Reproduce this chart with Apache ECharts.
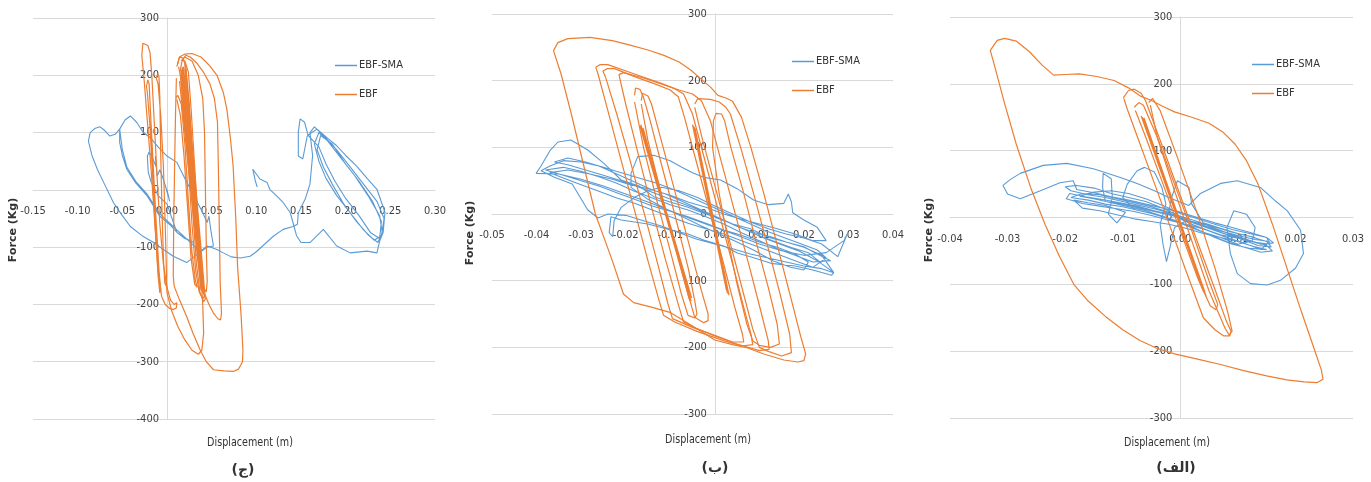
<!DOCTYPE html>
<html><head><meta charset="utf-8">
<script src="https://cdn.jsdelivr.net/npm/echarts@6/dist/echarts.min.js"></script>
<style>html,body{margin:0;padding:0;background:#fff}#c{width:1371px;height:482px}</style>
</head><body><div id="c"></div>
<script>
// ---------- tick settings ----------
const p1X = {min:-0.15, max:0.30, interval:0.05};
const p1Y = {min:-400, max:300, interval:100};
const p2X = {min:-0.05, max:0.04, interval:0.01};
const p2Y = {min:-300, max:300, interval:100};
const p3X = {min:-0.04, max:0.03, interval:0.01};
const p3Y = {min:-300, max:300, interval:100};
const seriesNames = ['EBF-SMA','EBF'];
const captions = ['(ج)','(ب)','(الف)'];

// ---------- panel 1 (ج) ----------
const p1_sma = [[0.000,0],[0.003,-20],[-0.002,8],[0.002,-12],[-0.004,18],[-0.008,35],[-0.011,24],[-0.013,59],[-0.012,40],[-0.016,55],[-0.020,66],[-0.022,59],[-0.021,31],[-0.018,15],[-0.010,-10],[0.000,-25],[0.011,-74],[0.020,-85],[0.030,-92],[0.020,-84],[0.011,-74],[0.004,-62],[-0.008,-46],[-0.022,-11],[-0.035,12],[-0.045,36],[-0.050,60],[-0.053,83],[-0.053,106],[-0.047,122],[-0.041,129],[-0.034,118],[-0.027,101],[-0.018,90],[-0.010,75],[0.000,59],[0.011,48],[0.020,20],[0.030,-10],[0.040,-40],[0.045,-57],[0.047,-46],[0.049,-70],[0.052,-98],[0.045,-100],[0.036,-110],[0.022,-127],[0.007,-116],[-0.004,-104],[-0.015,-92],[-0.028,-80],[-0.041,-64],[-0.050,-45],[-0.060,-22],[-0.070,10],[-0.078,36],[-0.084,60],[-0.088,85],[-0.086,100],[-0.081,107],[-0.075,110],[-0.070,104],[-0.064,94],[-0.058,97],[-0.053,106],[-0.050,70],[-0.045,40],[-0.035,15],[-0.022,-8],[-0.008,-42],[0.011,-70],[0.025,-90],[0.037,-108],[0.045,-98],[0.056,-104],[0.063,-110],[0.072,-117],[0.082,-119],[0.093,-116],[0.100,-108],[0.107,-98],[0.119,-81],[0.130,-69],[0.141,-64],[0.146,-60],[0.147,-40],[0.149,-34],[0.155,-15],[0.160,10],[0.163,60],[0.160,100],[0.165,110],[0.175,95],[0.190,70],[0.205,40],[0.220,10],[0.235,-20],[0.243,-50],[0.240,-80],[0.232,-88],[0.220,-70],[0.205,-40],[0.190,-10],[0.178,20],[0.170,50],[0.165,80],[0.170,100],[0.180,85],[0.195,55],[0.210,25],[0.225,-10],[0.238,-45],[0.241,-75],[0.236,-92],[0.226,-80],[0.212,-55],[0.198,-25],[0.185,10],[0.175,40],[0.168,70],[0.172,95],[0.185,80],[0.200,45],[0.215,15],[0.230,-20],[0.240,-55],[0.238,-85],[0.228,-75],[0.215,-45],[0.200,-15],[0.188,15],[0.178,45],[0.170,75],[0.158,95],[0.154,118],[0.149,124],[0.147,101],[0.147,59],[0.152,54],[0.157,94],[0.162,100],[0.168,106],[0.180,90],[0.190,77],[0.200,60],[0.212,42],[0.224,20],[0.235,1],[0.244,-39],[0.242,-74],[0.238,-90],[0.235,-110],[0.224,-107],[0.205,-110],[0.190,-98],[0.175,-69],[0.168,-80],[0.160,-92],[0.150,-92],[0.145,-80],[0.141,-57],[0.138,-40],[0.130,-22],[0.123,-11],[0.115,1],[0.112,13],[0.104,19],[0.096,36],[0.099,15],[0.101,5]];
const p1_ebf_A = [[-0.0282,235],[-0.0270,256],[-0.0250,258],[-0.0215,252],[-0.0190,240],[-0.0170,200],[-0.0140,110],[-0.0110,20],[-0.0080,-60],[-0.0040,-130],[0.0000,-170],[0.0040,-193],[0.0080,-200],[0.0110,-197],[0.0105,-206],[0.0070,-209],[0.0030,-207],[-0.0020,-200],[-0.0060,-186],[-0.0100,-140],[-0.0140,-50],[-0.0180,40],[-0.0220,120],[-0.0255,190],[-0.0282,235]];
const p1_ebf_B = [[-0.0120,195],[-0.0105,202],[-0.0090,198],[-0.0080,160],[-0.0070,60],[-0.0055,-40],[-0.0040,-120],[-0.0025,-162],[-0.0010,-168],[-0.0005,-150],[-0.0020,-60],[-0.0040,40],[-0.0070,130],[-0.0100,185],[-0.0120,195]];
const p1_ebf_D = [[-0.0230,180],[-0.0215,192],[-0.0200,185],[-0.0180,120],[-0.0150,30],[-0.0120,-60],[-0.0090,-140],[-0.0070,-175],[-0.0080,-180],[-0.0100,-150],[-0.0130,-70],[-0.0160,20],[-0.0190,110],[-0.0220,170],[-0.0230,180]];
const p1_ebf_M1 = [[0.0120,220],[0.0140,232],[0.0180,230],[0.0210,215],[0.0250,150],[0.0290,50],[0.0330,-50],[0.0370,-130],[0.0400,-175],[0.0420,-185],[0.0400,-190],[0.0360,-178],[0.0320,-140],[0.0280,-60],[0.0240,40],[0.0200,130],[0.0160,190],[0.0130,215]];
const p1_ebf_M2 = [[0.0150,210],[0.0170,226],[0.0200,225],[0.0240,205],[0.0270,140],[0.0310,40],[0.0350,-60],[0.0380,-140],[0.0410,-180],[0.0430,-190],[0.0410,-195],[0.0370,-180],[0.0330,-130],[0.0290,-40],[0.0250,60],[0.0210,150],[0.0170,200],[0.0150,210]];
const p1_ebf_M3 = [[0.0100,160],[0.0120,165],[0.0160,150],[0.0200,80],[0.0240,-20],[0.0280,-110],[0.0320,-160],[0.0340,-170],[0.0310,-165],[0.0270,-120],[0.0230,-30],[0.0190,60],[0.0150,130],[0.0110,158]];
const p1_ebf_band = [[0.0150,200],[0.0390,-172],[0.0160,210],[0.0400,-165],[0.0140,190],[0.0380,-175],[0.0170,215],[0.0410,-170],[0.0155,205],[0.0385,-160],[0.0165,180],[0.0395,-178],[0.0175,200],[0.0370,-150],[0.0180,195],[0.0360,-140],[0.0190,205],[0.0375,-165],[0.0185,215],[0.0405,-182],[0.0200,220],[0.0420,-175],[0.0210,212],[0.0395,-168],[0.0195,200],[0.0350,-120],[0.0220,190],[0.0365,-130]];
const p1_ebf_M4 = [[0.0110,215],[0.0140,232],[0.0200,237],[0.0280,238],[0.0380,232],[0.0470,218],[0.0560,200],[0.0630,170],[0.0670,141],[0.0710,90],[0.0740,42],[0.0770,-50],[0.0790,-134],[0.0830,-220],[0.0850,-280],[0.0845,-300],[0.0800,-313],[0.0740,-317],[0.0640,-316],[0.0520,-314],[0.0440,-300],[0.0370,-279],[0.0290,-250],[0.0220,-221],[0.0140,-192],[0.0080,-168],[0.0070,-150],[0.0075,-60],[0.0085,40],[0.0095,130],[0.0105,195]];
const p1_ebf_M5 = [[0.0180,228],[0.0210,235],[0.0260,232],[0.0330,222],[0.0410,205],[0.0480,185],[0.0530,160],[0.0565,118],[0.0575,40],[0.0585,-60],[0.0595,-160],[0.0610,-215],[0.0600,-227],[0.0570,-225],[0.0520,-215],[0.0470,-200],[0.0430,-185],[0.0400,-160],[0.0360,-100],[0.0320,-20],[0.0280,70],[0.0240,150],[0.0200,210]];
const p1_ebf_M6 = [[-0.0010,-150],[0.0000,-180],[0.0050,-210],[0.0120,-238],[0.0200,-262],[0.0280,-280],[0.0350,-287],[0.0390,-280],[0.0410,-250],[0.0400,-200],[0.0380,-150]];
const p1_ebf_M7 = [[0.0160,225],[0.0200,232],[0.0280,225],[0.0350,200],[0.0400,160],[0.0420,100],[0.0430,0],[0.0440,-100],[0.0450,-160],[0.0440,-178],[0.0420,-180],[0.0380,-165],[0.0340,-110],[0.0300,-20],[0.0260,70],[0.0220,150],[0.0180,210]];

// ---------- panel 2 (ب) ----------
const p2_sma = [[0.0000,-5],[0.0040,-15],[0.0080,-22],[0.0120,-35],[0.0160,-42],[0.0200,-50],[0.0240,-62],[0.0267,-88],[0.0262,-92],[0.0220,-84],[0.0180,-78],[0.0126,-74],[0.0080,-64],[0.0052,-59],[0.0020,-48],[-0.0025,-39],[-0.0060,-30],[-0.0099,-24],[-0.0150,-15],[-0.0210,-9],[-0.0233,-4],[-0.0237,-28],[-0.0229,-34],[-0.0226,-10],[-0.0210,10],[-0.0180,25],[-0.0150,35],[-0.0120,40],[-0.0080,35],[-0.0040,25],[0.0000,12],[0.0040,0],[0.0080,-12],[0.0120,-22],[0.0160,-30],[0.0200,-36],[0.0240,-45],[0.0276,-64],[0.0298,-29],[0.0290,-40],[0.0250,-58],[0.0200,-62],[0.0150,-55],[0.0100,-45],[0.0050,-32],[0.0000,-20],[-0.0050,-8],[-0.0100,5],[-0.0150,18],[-0.0200,30],[-0.0250,42],[-0.0300,52],[-0.0350,60],[-0.0401,61],[-0.0390,72],[-0.0370,95],[-0.0352,108],[-0.0323,111],[-0.0285,96],[-0.0249,76],[-0.0210,51],[-0.0170,42],[-0.0137,26],[-0.0100,18],[-0.0060,10],[-0.0025,1],[0.0015,-8],[0.0052,-19],[0.0090,-28],[0.0126,-34],[0.0160,-42],[0.0200,-49],[0.0230,-60],[0.0260,-70],[0.0220,-72],[0.0180,-62],[0.0140,-52],[0.0100,-40],[0.0060,-28],[0.0020,-15],[-0.0020,-4],[-0.0060,6],[-0.0100,14],[-0.0140,24],[-0.0180,34],[-0.0220,46],[-0.0260,56],[-0.0300,64],[-0.0340,70],[-0.0380,66],[-0.0340,58],[-0.0300,50],[-0.0260,42],[-0.0220,32],[-0.0180,22],[-0.0140,12],[-0.0100,4],[-0.0060,-4],[-0.0020,-14],[0.0020,-24],[0.0060,-32],[0.0100,-42],[0.0140,-50],[0.0180,-60],[0.0210,-72],[0.0200,-84],[0.0170,-80],[0.0130,-70],[0.0090,-55],[0.0050,-42],[0.0010,-30],[-0.0030,-18],[-0.0070,-5],[-0.0110,8],[-0.0150,22],[-0.0188,40],[-0.0188,61],[-0.0173,86],[-0.0137,88],[-0.0100,80],[-0.0076,71],[-0.0050,62],[-0.0025,55],[0.0013,51],[0.0050,38],[0.0087,21],[0.0120,14],[0.0155,16],[0.0165,30],[0.0172,18],[0.0175,2],[0.0200,-9],[0.0230,-20],[0.0250,-40],[0.0220,-40],[0.0180,-30],[0.0140,-22],[0.0100,-15],[0.0060,-8],[0.0020,0],[-0.0020,10],[-0.0060,18],[-0.0100,28],[-0.0140,36],[-0.0180,48],[-0.0220,60],[-0.0260,72],[-0.0300,78],[-0.0340,80],[-0.0370,72],[-0.0390,65],[-0.0360,55],[-0.0320,45],[-0.0285,6],[-0.0262,-6],[-0.0240,0],[-0.0200,-2],[-0.0160,-10],[-0.0120,-18],[-0.0080,-28],[-0.0040,-38],[0.0000,-45],[0.0040,-52],[0.0080,-60],[0.0120,-66],[0.0160,-72],[0.0200,-78],[0.0240,-82],[0.0267,-88],[0.0230,-70],[0.0190,-56],[0.0150,-46],[0.0110,-36],[0.0070,-24],[0.0030,-12],[-0.0010,-2],[-0.0050,10],[-0.0090,20],[-0.0130,30],[-0.0170,40],[-0.0210,50],[-0.0250,58],[-0.0290,66],[-0.0330,74],[-0.0360,78],[-0.0330,84],[-0.0290,78],[-0.0250,70],[-0.0210,62],[-0.0170,54],[-0.0130,46],[-0.0090,36],[-0.0050,24],[-0.0010,12],[0.0030,0],[0.0070,-12],[0.0110,-24],[0.0150,-34],[0.0190,-44],[0.0230,-54],[0.0250,-66],[0.0220,-80],[0.0180,-70],[0.0140,-60],[0.0100,-50],[0.0060,-40],[0.0020,-30],[-0.0020,-22],[-0.0060,-14],[-0.0100,-4],[-0.0140,6],[-0.0180,16],[-0.0220,24],[-0.0260,34],[-0.0300,44],[-0.0340,54],[-0.0370,62],[-0.0330,66],[-0.0280,60],[-0.0230,52],[-0.0190,44],[-0.0150,38],[-0.0110,30],[-0.0070,18],[-0.0030,6],[0.0010,-6],[0.0050,-18],[0.0090,-30],[0.0130,-40],[0.0170,-50],[0.0210,-58],[0.0240,-74]];
const p2_ebf_outer = [[-0.0362,245],[-0.0352,257],[-0.0330,263],[-0.0280,265],[-0.0230,260],[-0.0188,253],[-0.0150,246],[-0.0114,238],[-0.0080,228],[-0.0054,216],[-0.0030,202],[-0.0009,190],[0.0007,178],[0.0025,174],[0.0040,169],[0.0060,145],[0.0081,100],[0.0110,31],[0.0141,-49],[0.0170,-124],[0.0193,-184],[0.0204,-210],[0.0200,-220],[0.0186,-222],[0.0155,-219],[0.0110,-210],[0.0074,-201],[0.0040,-196],[0.0000,-189],[-0.0050,-168],[-0.0099,-148],[-0.0140,-140],[-0.0182,-133],[-0.0205,-120],[-0.0230,-70],[-0.0268,0],[-0.0295,75],[-0.0322,150],[-0.0345,210],[-0.0362,245]];
const p2_ebf_l2 = [[-0.0262,210],[-0.0267,220],[-0.0258,224],[-0.0240,224],[-0.0180,210],[-0.0120,196],[-0.0090,188],[-0.0070,180],[-0.0050,150],[-0.0020,75],[0.0010,0],[0.0040,-75],[0.0065,-140],[0.0082,-182],[0.0085,-196],[0.0060,-198],[0.0020,-190],[-0.0040,-176],[-0.0090,-162],[-0.0115,-152],[-0.0125,-130],[-0.0150,-70],[-0.0180,5],[-0.0210,80],[-0.0240,155],[-0.0262,210]];
const p2_ebf_l3 = [[-0.0245,205],[-0.0251,214],[-0.0242,218],[-0.0225,218],[-0.0180,206],[-0.0130,194],[-0.0100,186],[-0.0082,176],[-0.0068,145],[-0.0040,75],[-0.0010,0],[0.0020,-75],[0.0045,-140],[0.0062,-180],[0.0065,-192],[0.0040,-192],[0.0000,-182],[-0.0050,-170],[-0.0095,-157],[-0.0105,-135],[-0.0130,-70],[-0.0160,5],[-0.0190,80],[-0.0220,150],[-0.0245,205]];
const p2_ebf_l4 = [[-0.0212,200],[-0.0215,209],[-0.0205,212],[-0.0160,204],[-0.0120,195],[-0.0080,186],[-0.0050,180],[-0.0030,170],[-0.0010,140],[0.0020,65],[0.0050,-10],[0.0080,-85],[0.0105,-150],[0.0120,-190],[0.0122,-203],[0.0100,-205],[0.0050,-195],[0.0000,-183],[-0.0040,-172],[-0.0070,-162],[-0.0080,-140],[-0.0110,-70],[-0.0140,5],[-0.0170,85],[-0.0200,165],[-0.0212,200]];
const p2_ebf_l5 = [[-0.0180,178],[-0.0178,189],[-0.0168,187],[-0.0160,175],[-0.0145,140],[-0.0120,75],[-0.0090,0],[-0.0060,-80],[-0.0045,-130],[-0.0040,-150],[-0.0045,-156],[-0.0060,-152],[-0.0075,-120],[-0.0100,-55],[-0.0130,20],[-0.0160,100],[-0.0180,168]];
const p2_ebf_l6 = [[-0.0165,170],[-0.0162,181],[-0.0150,177],[-0.0142,165],[-0.0120,110],[-0.0090,35],[-0.0060,-40],[-0.0030,-115],[-0.0015,-150],[-0.0015,-160],[-0.0025,-163],[-0.0045,-155],[-0.0060,-120],[-0.0090,-45],[-0.0120,30],[-0.0150,110],[-0.0165,165]];
const p2_ebf_bandL = [[-0.0168,132],[-0.0055,-130],[-0.0163,127],[-0.0052,-126],[-0.0166,134],[-0.0057,-128],[-0.0161,129],[-0.0053,-131],[-0.0165,131],[-0.0056,-125]];
const p2_ebf_r2 = [[-0.0045,165],[-0.0038,173],[-0.0010,172],[0.0010,168],[0.0025,160],[0.0035,150],[0.0058,100],[0.0087,31],[0.0119,-49],[0.0148,-124],[0.0168,-180],[0.0172,-208],[0.0150,-213],[0.0120,-206],[0.0100,-200],[0.0085,-172],[0.0060,-108],[0.0030,-32],[0.0000,43],[-0.0030,118],[-0.0045,160]];
const p2_ebf_r3 = [[-0.0003,140],[0.0003,151],[0.0015,150],[0.0022,140],[0.0036,100],[0.0065,31],[0.0090,-35],[0.0120,-110],[0.0140,-165],[0.0145,-195],[0.0125,-200],[0.0100,-197],[0.0085,-190],[0.0072,-165],[0.0050,-105],[0.0030,-40],[0.0010,30],[-0.0005,100],[-0.0003,140]];
const p2_ebf_bandR = [[-0.0048,132],[0.0028,-118],[-0.0044,128],[0.0032,-122],[-0.0050,134],[0.0026,-114],[-0.0046,130],[0.0030,-120],[-0.0047,131]];

// ---------- panel 3 (الف) ----------
const p3_sma = [[0.0000,-2],[0.0030,-8],[0.0060,-14],[0.0090,-22],[0.0120,-28],[0.0150,-36],[0.0158,-44],[0.0135,-42],[0.0105,-32],[0.0075,-24],[0.0045,-15],[0.0015,-6],[-0.0015,4],[-0.0045,10],[-0.0075,17],[-0.0105,22],[-0.0135,27],[-0.0165,31],[-0.0192,36],[-0.0198,28],[-0.0170,21],[-0.0140,17],[-0.0110,13],[-0.0080,9],[-0.0050,3],[-0.0020,-4],[0.0010,-10],[0.0040,-17],[0.0070,-26],[0.0100,-31],[0.0130,-37],[0.0156,-40],[0.0150,-30],[0.0120,-22],[0.0090,-15],[0.0060,-8],[0.0030,0],[0.0000,8],[-0.0030,14],[-0.0060,20],[-0.0090,26],[-0.0120,31],[-0.0150,37],[-0.0180,42],[-0.0186,55],[-0.0209,52],[-0.0243,40],[-0.0278,28],[-0.0300,35],[-0.0308,48],[-0.0295,57],[-0.0278,66],[-0.0238,78],[-0.0197,81],[-0.0151,73],[-0.0104,60],[-0.0075,51],[-0.0045,40],[-0.0015,28],[0.0015,18],[0.0035,36],[0.0070,51],[0.0099,55],[0.0139,45],[0.0165,25],[0.0186,10],[0.0209,-19],[0.0214,-54],[0.0200,-76],[0.0174,-94],[0.0151,-101],[0.0122,-99],[0.0099,-84],[0.0087,-54],[0.0081,-15],[0.0093,10],[0.0115,5],[0.0130,-15],[0.0125,-35],[0.0100,-40],[0.0070,-30],[0.0040,-22],[0.0010,-12],[-0.0020,-2],[-0.0050,6],[-0.0080,12],[-0.0100,30],[-0.0092,50],[-0.0075,70],[-0.0062,75],[-0.0045,68],[-0.0032,45],[-0.0025,20],[-0.0035,-10],[-0.0030,-40],[-0.0024,-66],[-0.0018,-45],[-0.0010,-15],[0.0010,-5],[0.0040,-12],[0.0070,-20],[0.0100,-27],[0.0130,-33],[0.0155,-36],[0.0140,-48],[0.0110,-38],[0.0080,-30],[0.0050,-20],[0.0020,-10],[-0.0010,2],[-0.0040,8],[-0.0070,14],[-0.0100,20],[-0.0130,24],[-0.0135,45],[-0.0134,66],[-0.0120,58],[-0.0118,30],[-0.0125,5],[-0.0110,-8],[-0.0095,8],[-0.0130,18],[-0.0160,22],[-0.0185,26],[-0.0170,14],[-0.0140,10],[-0.0110,4],[-0.0080,-2],[-0.0050,-6],[-0.0020,-10],[0.0010,-16],[0.0040,-24],[0.0070,-30],[0.0100,-36],[0.0130,-44],[0.0150,-48],[0.0120,-46],[0.0090,-40],[0.0060,-30],[0.0030,-18],[0.0000,-8],[-0.0030,2],[-0.0060,10],[-0.0090,16],[-0.0120,22],[-0.0150,28],[-0.0175,32],[-0.0150,38],[-0.0120,40],[-0.0090,36],[-0.0060,28],[-0.0030,18],[0.0000,6],[0.0030,-2],[0.0060,-10],[0.0090,-18],[0.0120,-24],[0.0150,-30],[0.0162,-38],[0.0140,-40],[0.0110,-32],[0.0080,-25],[0.0050,-16],[0.0020,-6],[-0.0010,4],[-0.0040,12],[-0.0070,18],[-0.0100,24],[-0.0130,30],[-0.0160,34],[-0.0190,40],[-0.0200,46],[-0.0180,48],[-0.0150,44],[-0.0120,36],[-0.0090,30],[-0.0060,24],[-0.0030,14],[0.0000,2],[0.0030,-6],[0.0060,-16],[0.0090,-26],[0.0120,-34],[0.0150,-42],[0.0160,-50],[0.0140,-52],[0.0110,-44],[0.0080,-36],[0.0050,-26],[0.0020,-14],[-0.0010,-4],[-0.0040,4],[-0.0070,10],[-0.0100,16],[-0.0130,20],[-0.0160,26],[-0.0190,30],[-0.0170,36],[-0.0140,34],[-0.0110,28],[-0.0080,22],[-0.0050,16],[-0.0020,8],[-0.0015,30],[-0.0005,55],[0.0015,45],[0.0020,20],[0.0040,-8],[0.0070,-16],[0.0100,-24],[0.0130,-30]];
const p3_ebf_band = [[-0.0066,150],[0.0040,-110],[-0.0062,146],[0.0043,-112],[-0.0068,152],[0.0038,-106],[-0.0064,148],[0.0045,-118],[-0.0060,140],[0.0036,-100],[-0.0065,147],[0.0041,-109],[-0.0063,149],[0.0042,-113]];
const p3_ebf_loopA = [[-0.0080,165],[-0.0072,172],[-0.0064,168],[-0.0040,120],[-0.0010,50],[0.0020,-20],[0.0050,-95],[0.0065,-130],[0.0062,-138],[0.0052,-132],[0.0030,-90],[0.0000,-20],[-0.0030,50],[-0.0060,120],[-0.0078,160]];
const p3_ebf_loopB = [[-0.0099,179],[-0.0090,190],[-0.0080,192],[-0.0068,186],[-0.0060,174],[-0.0030,104],[0.0000,33],[0.0030,-37],[0.0060,-107],[0.0080,-155],[0.0088,-170],[0.0086,-177],[0.0075,-177],[0.0060,-168],[0.0040,-150],[0.0010,-80],[-0.0020,-8],[-0.0050,63],[-0.0075,122],[-0.0092,162],[-0.0098,178]];
const p3_ebf_loopC = [[-0.0055,172],[-0.0048,178],[-0.0035,160],[-0.0005,90],[0.0030,5],[0.0060,-75],[0.0082,-140],[0.0090,-170],[0.0085,-176],[0.0078,-166],[0.0050,-110],[0.0020,-35],[-0.0010,40],[-0.0040,120],[-0.0052,168]];
const p3_ebf_outer = [[-0.0050,175],[-0.0030,166],[-0.0010,158],[0.0020,150],[0.0050,141],[0.0075,127],[0.0095,110],[0.0115,85],[0.0135,50],[0.0160,-10],[0.0185,-75],[0.0210,-140],[0.0230,-190],[0.0245,-228],[0.0248,-242],[0.0238,-247],[0.0215,-246],[0.0185,-243],[0.0150,-237],[0.0110,-229],[0.0070,-220],[0.0030,-212],[-0.0010,-204],[-0.0040,-196],[-0.0070,-184],[-0.0100,-168],[-0.0130,-148],[-0.0160,-125],[-0.0185,-100],[-0.0210,-58],[-0.0235,-10],[-0.0260,45],[-0.0285,110],[-0.0305,170],[-0.0322,225],[-0.0330,250],[-0.0318,265],[-0.0305,268],[-0.0285,264],[-0.0262,248],[-0.0240,228],[-0.0220,213],[-0.0200,214],[-0.0175,215],[-0.0145,211],[-0.0115,205],[-0.0090,194],[-0.0070,182],[-0.0050,175]];

// ---------- build ----------
const BLUE = '#5B9BD5', ORANGE = '#ED7D31';
const NARROW = "'DejaVu Sans Condensed','Liberation Sans Narrow','Liberation Sans',Arial,sans-serif";
const panels = [
  {grid:{left:33, top:18, width:402, height:401}, x:p1X, y:p1Y, sma:p1_sma,
   ebf:[p1_ebf_A,p1_ebf_D,p1_ebf_B,p1_ebf_M3,p1_ebf_band,p1_ebf_M1,p1_ebf_M2,p1_ebf_M7,p1_ebf_M5,p1_ebf_M4,p1_ebf_M6],
   legend:{left:335, top:60}, ytitle:[13,230], xtitle:[250,443], cap:[243,470]},
  {grid:{left:492, top:14, width:401, height:400}, x:p2X, y:p2Y, sma:p2_sma,
   ebf:[p2_ebf_bandL,p2_ebf_l5,p2_ebf_l6,p2_ebf_l3,p2_ebf_l2,p2_ebf_l4,p2_ebf_bandR,p2_ebf_r3,p2_ebf_r2,p2_ebf_outer],
   legend:{left:792, top:56}, ytitle:[470,233], xtitle:[708,440], cap:[715,468]},
  {grid:{left:950, top:17, width:403, height:401}, x:p3X, y:p3Y, sma:p3_sma,
   ebf:[p3_ebf_band,p3_ebf_loopA,p3_ebf_loopB,p3_ebf_loopC,p3_ebf_outer],
   legend:{left:1252, top:59}, ytitle:[929,230], xtitle:[1167,443], cap:[1176,468]}
];
const fmtX = v => (Math.abs(v) < 1e-9 ? 0 : v).toFixed(2);
const option = {animation:false, backgroundColor:'#fff', grid:[], xAxis:[], yAxis:[], series:[], legend:[], graphic:[]};
panels.forEach((p,i)=>{
  option.grid.push(p.grid);
  // place the axes (and their labels) on the zero lines of the other axis
  const xOff = -p.grid.height * (0 - p.y.min) / (p.y.max - p.y.min);
  const yOff = -p.grid.width * (0 - p.x.min) / (p.x.max - p.x.min);
  option.xAxis.push({gridIndex:i, type:'value', position:'bottom', offset:xOff, min:p.x.min, max:p.x.max, interval:p.x.interval,
    axisLine:{onZero:false, lineStyle:{color:'#d9d9d9'}}, axisTick:{show:false}, splitLine:{show:false},
    axisLabel:{margin:16, fontSize:11, color:'#404040', fontFamily:NARROW, formatter:fmtX, showMinLabel:true, showMaxLabel:true}});
  option.yAxis.push({gridIndex:i, type:'value', position:'left', offset:yOff, min:p.y.min, max:p.y.max, interval:p.y.interval,
    axisLine:{show:true, onZero:false, lineStyle:{color:'#d9d9d9'}}, axisTick:{show:false},
    splitLine:{show:true, lineStyle:{color:'#d9d9d9'}},
    axisLabel:{margin:8, fontSize:11, color:'#404040', fontFamily:NARROW, showMinLabel:true, showMaxLabel:true}});
  option.series.push({name:seriesNames[0], type:'line', xAxisIndex:i, yAxisIndex:i, data:p.sma,
    showSymbol:false, symbol:'none', lineStyle:{color:BLUE, width:1.1}, itemStyle:{color:BLUE}});
  p.ebf.forEach(loop=>{
    option.series.push({name:seriesNames[1], type:'line', xAxisIndex:i, yAxisIndex:i, data:loop,
      showSymbol:false, symbol:'none', lineStyle:{color:ORANGE, width:1.2}, itemStyle:{color:ORANGE}});
  });
  option.legend.push({left:p.legend.left, top:p.legend.top, padding:0, orient:'vertical', itemGap:18, icon:'rect',
    itemWidth:22, itemHeight:1.5, selectedMode:false, data:seriesNames,
    textStyle:{fontSize:11, color:'#333', fontFamily:NARROW, padding:[0,0,0,-3]}});
  option.graphic.push({type:'text', x:p.ytitle[0], y:p.ytitle[1], rotation:Math.PI/2,
    style:{text:'Force (Kg)', fontSize:11, fontWeight:'bold', fontFamily:"'DejaVu Sans',Arial,sans-serif", fill:'#333', align:'center', verticalAlign:'middle'}});
  option.graphic.push({type:'text', x:p.xtitle[0], y:p.xtitle[1], scaleX:0.82,
    style:{text:'Displacement (m)', fontSize:13, fontFamily:NARROW, fill:'#333', align:'center', verticalAlign:'middle'}});
  option.graphic.push({type:'text', x:p.cap[0], y:p.cap[1],
    style:{text:captions[i], fontSize:14, fontWeight:'bold', fontFamily:"'DejaVu Sans',sans-serif", fill:'#333', align:'center', verticalAlign:'middle'}});
});
const chart = echarts.init(document.getElementById('c'), null, {renderer:'canvas'});
chart.setOption(option);
</script></body></html>
